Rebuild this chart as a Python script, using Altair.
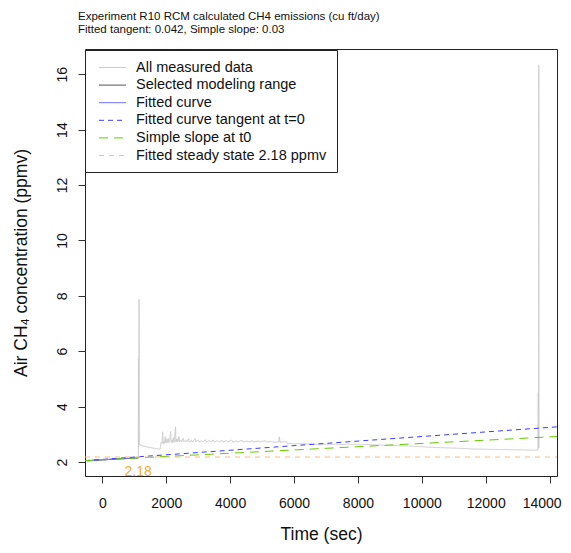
import altair as alt
import pandas as pd

FONT = "Liberation Sans"

# ---- data ----
# selected modeling range (also part of all measured data)
sel_t = [-480, -400, -300, -200, -100, 0, 100, 200, 300, 400, 500, 600, 700, 800, 900, 1000, 1100, 1125]
sel_c = [2.05, 2.05, 2.06, 2.07, 2.07, 2.08, 2.08, 2.09, 2.10, 2.10, 2.11, 2.12, 2.12, 2.13, 2.13, 2.14, 2.15, 2.16]

# rest of the measured data after the modeling range
rest_t = [1135, 1140, 1150, 1160, 1175, 1250, 1350, 1450, 1550, 1650, 1750, 1810, 1840, 1870, 1890, 1905,
          1930, 1950, 1970, 1985, 2010, 2030, 2060, 2080, 2110, 2140, 2155, 2180, 2200, 2230, 2250, 2290,
          2305, 2340, 2360, 2400, 2415, 2460, 2480, 2530, 2550, 2610, 2640, 2700, 2720, 2800, 2830, 2900,
          2920, 3000, 3030, 3100, 3150, 3230, 3260, 3350, 3380, 3480, 3500, 3600, 3640, 3750, 3780, 3900,
          3930, 4050, 4080, 4200, 4240, 4380, 4400, 4550, 4580, 4700, 4730, 4900, 4930, 5100, 5130, 5300,
          5350, 5520, 5540, 5560, 5700, 5780, 5800, 5900, 6000, 6150, 6300, 6450, 6600, 7000, 7500, 8000,
          8500, 9000, 9500, 9900, 10300, 10800, 11300, 11600, 12000, 12500, 13000, 13400, 13630, 13645,
          13650, 13660, 13670]
rest_c = [5.70, 2.55, 7.87, 2.66, 2.62, 2.59, 2.56, 2.53, 2.51, 2.49, 2.47, 2.46, 2.72, 2.68, 3.09, 2.66,
          2.75, 2.68, 2.91, 2.70, 2.82, 2.69, 2.86, 2.70, 2.78, 3.10, 2.71, 2.80, 2.70, 2.88, 2.71, 3.27,
          2.72, 2.84, 2.72, 2.92, 2.73, 2.80, 2.72, 2.86, 2.73, 2.79, 2.72, 2.84, 2.73, 2.78, 2.72, 2.85,
          2.73, 2.79, 2.72, 2.77, 2.73, 2.80, 2.72, 2.78, 2.73, 2.79, 2.72, 2.77, 2.73, 2.78, 2.72, 2.77,
          2.73, 2.79, 2.72, 2.76, 2.73, 2.78, 2.72, 2.76, 2.72, 2.77, 2.72, 2.76, 2.72, 2.77, 2.72, 2.75,
          2.72, 2.72, 2.91, 2.72, 2.73, 2.72, 2.66, 2.68, 2.65, 2.67, 2.65, 2.66, 2.64, 2.64, 2.64, 2.64,
          2.62, 2.60, 2.58, 2.56, 2.53, 2.51, 2.49, 2.47, 2.46, 2.45, 2.44, 2.43, 2.43, 4.50,
          2.50, 16.32, 2.50]

fit_t = [-480, -300, -100, 0, 200, 400, 600, 800, 1000, 1125]
fit_c = [2.04, 2.055, 2.07, 2.08, 2.095, 2.11, 2.12, 2.13, 2.14, 2.145]

tan_t = [-542, 14231]
tan_c = [2.05, 3.27]
slope_t = [-542, 14231]
slope_c = [2.05, 2.92]
ss_t = [-542, 14231]
ss_c = [2.18, 2.18]

label_t = [1120]
label_c = [2.18]
label_txt = ["2.18"]

x_ticks = [0, 2000, 4000, 6000, 8000, 10000, 12000, 14000]
y_ticks = [2, 4, 6, 8, 10, 12, 14, 16]

series = ["All measured data", "Selected modeling range", "Fitted curve",
          "Fitted curve tangent at t=0", "Simple slope at t0", "Fitted steady state 2.18 ppmv"]
colors = ["#cccccc", "#555555", "#7373ff", "#3c3cff", "#66cc00", "#ffbb77"]
widths = [1, 1, 2, 1.2, 2.4, 1]
dashes = [[1, 0], [1, 0], [1, 0], [5, 4], [9, 6], [5, 5]]


def frame(t, c, name):
    return pd.DataFrame({"t": t, "c": c, "series": name, "i": range(len(t))})


meas = frame(sel_t + rest_t, sel_c + rest_c, series[0])
sel = frame(sel_t, sel_c, series[1])
fit = frame(fit_t, fit_c, series[2])
tan = frame(tan_t, tan_c, series[3])
slo = frame(slope_t, slope_c, series[4])
ss = frame(ss_t, ss_c, series[5])
lab = pd.DataFrame({"t": label_t, "c": label_c, "txt": label_txt})

xscale = alt.Scale(domain=[-542, 14231], nice=False, zero=False)
yscale = alt.Scale(domain=[1.495, 16.91], nice=False, zero=False)

xenc = alt.X("t:Q", scale=xscale,
             axis=alt.Axis(values=x_ticks, title="Time (sec)", labelPadding=13, titlePadding=15,
                           format="d",
                           labelOffset=alt.condition("datum.value == 14000", alt.value(-8), alt.value(0))))
yenc = alt.Y("c:Q", scale=yscale,
             axis=alt.Axis(values=y_ticks, title="Air CH\u2084 concentration (ppmv)",
                           labelAngle=270, labelAlign="center", labelBaseline="alphabetic",
                           labelPadding=12, titlePadding=25))

legend = alt.Legend(title=None, orient="none", legendX=0, legendY=1, direction="vertical",
                    fillColor="white", strokeColor="#222", padding=10,
                    symbolType="M-2,0H2", symbolSize=182, symbolOffset=10,
                    labelOffset=16, labelFont=FONT, labelFontSize=14.5, labelColor="#111",
                    rowPadding=2.6, labelLimit=400)

color = alt.Color("series:N", scale=alt.Scale(domain=series, range=colors), legend=legend)
dash = alt.StrokeDash("series:N", scale=alt.Scale(domain=series, range=dashes), legend=None)
width = alt.StrokeWidth("series:N", scale=alt.Scale(domain=series, range=widths), legend=None)


def line(df):
    return alt.Chart(df).mark_line(clip=True).encode(
        x=xenc, y=yenc, color=color, strokeDash=dash, strokeWidth=width, order="i:Q")


text = alt.Chart(lab).mark_text(font=FONT, fontSize=14, color="#ffa930", dy=15,
                                baseline="middle", align="center").encode(
    x=alt.X("t:Q", scale=xscale), y=alt.Y("c:Q", scale=yscale), text="txt:N")

chart = alt.layer(line(meas), line(sel), line(fit), line(tan), line(slo), line(ss), text).properties(
    width=472, height=427,
    autosize=alt.AutoSizeParams(type="none"),
    padding={"left": 77, "top": 41, "right": 6, "bottom": 68},
    title=alt.TitleParams(
        text=["Experiment R10 RCM calculated CH4 emissions (cu ft/day)",
              "Fitted tangent: 0.042, Simple slope: 0.03"],
        anchor="start", frame="group", dx=-7, fontSize=11.5, font=FONT, fontWeight="normal",
        color="#111", lineHeight=12.5, offset=14),
).configure_view(stroke="#222", strokeWidth=1).configure_axis(
    grid=False, domain=False, tickColor="#333", tickSize=7, labelFont=FONT, labelFontSize=14,
    labelColor="#111", titleFont=FONT, titleFontSize=17.5, titleFontWeight="normal", titleColor="#111"
)

chart.save("out.html", embed_options={"renderer": "svg", "actions": False})
